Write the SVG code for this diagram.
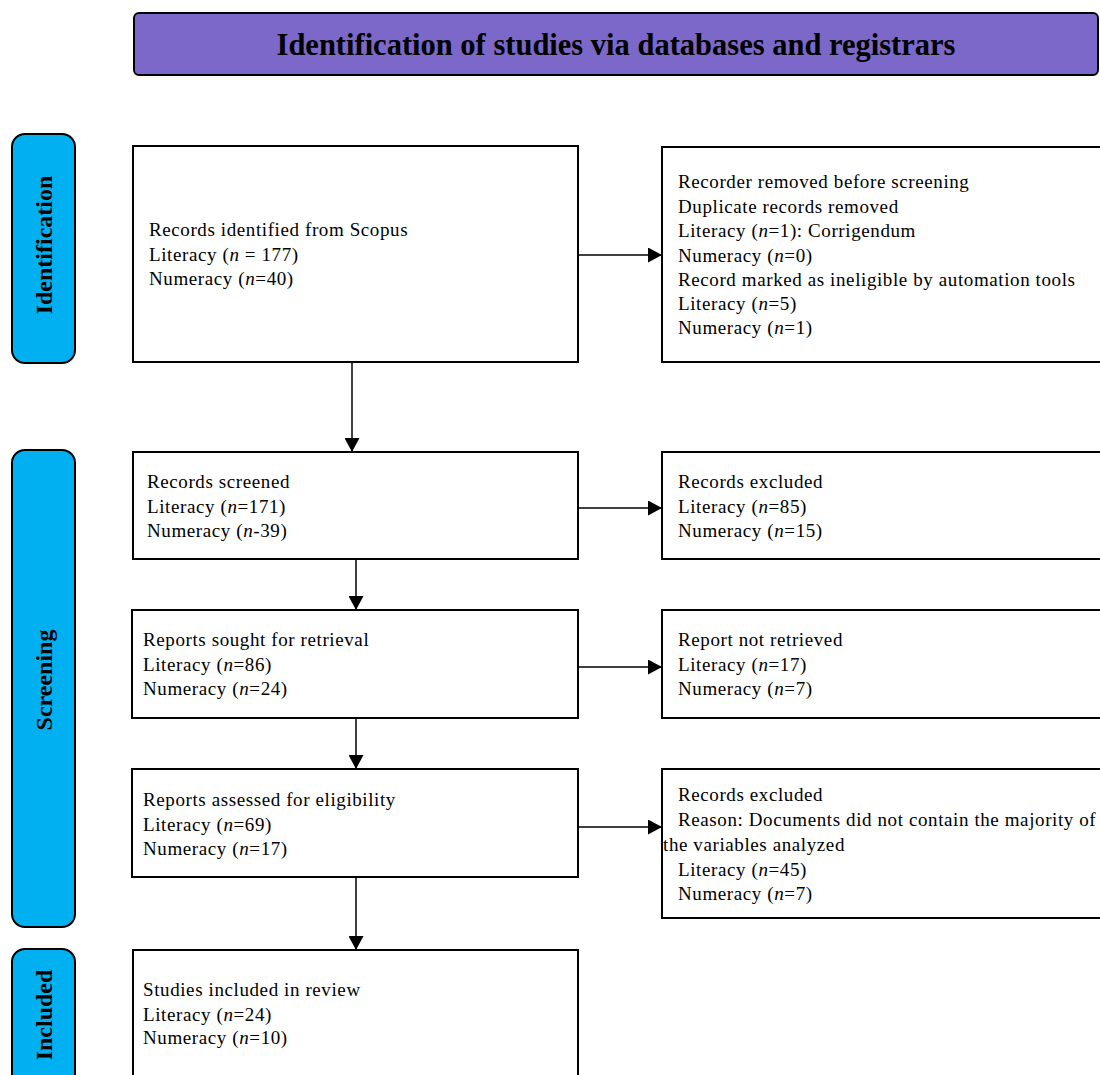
<svg xmlns="http://www.w3.org/2000/svg" width="1100" height="1075" viewBox="0 0 1100 1075">
<defs>
<marker id="ah" markerWidth="14" markerHeight="15" refX="13" refY="7.5" orient="auto" markerUnits="userSpaceOnUse">
<path d="M0,0 L14,7.5 L0,15 Z" fill="#000"/>
</marker>
<style>
.box{fill:#fff;stroke:#000;stroke-width:2}
.side{fill:#00B0F0;stroke:#000;stroke-width:2}
.t{font-family:"Liberation Serif","Times New Roman",serif;font-size:19px;letter-spacing:0.6px;fill:#000}
.lbl{font-family:"Liberation Serif","Times New Roman",serif;font-size:24px;font-weight:bold;fill:#000;text-anchor:middle}
.c{stroke:#000;stroke-width:1.5;fill:none;marker-end:url(#ah)}
</style>
</defs>
<rect width="1100" height="1075" fill="#fff"/>
<g id="title">
<rect x="134" y="13" width="964" height="62" rx="5" fill="#7B68C8" stroke="#000" stroke-width="2"/>
<text x="616" y="55" font-family="'Liberation Serif','Times New Roman',serif" font-size="30.5" font-weight="bold" text-anchor="middle" fill="#000">Identification of studies via databases and registrars</text>
</g>
<g id="phase-identification">
<rect class="side" x="12" y="134" width="63" height="229" rx="13"/>
<text class="lbl" transform="translate(52,245) rotate(-90)">Identification</text>
</g>
<g id="phase-screening">
<rect class="side" x="12" y="450" width="63" height="477" rx="13"/>
<text class="lbl" transform="translate(52,680) rotate(-90)">Screening</text>
</g>
<g id="phase-included">
<rect class="side" x="12" y="949" width="63" height="140" rx="13"/>
<text class="lbl" transform="translate(52,1015) rotate(-90)">Included</text>
</g>
<g id="identified">
<rect class="box" x="133" y="146" width="445" height="216"/>
<text class="t" x="149" y="236">Records identified from Scopus</text>
<text class="t" x="149" y="261">Literacy (<tspan font-style="italic">n</tspan> = 177)</text>
<text class="t" x="149" y="285">Numeracy (<tspan font-style="italic">n</tspan>=40)</text>
</g>
<g id="removed">
<rect class="box" x="662" y="147" width="445" height="215"/>
<text class="t" x="678" y="188">Recorder removed before screening</text>
<text class="t" x="678" y="213">Duplicate records removed</text>
<text class="t" x="678" y="237">Literacy (<tspan font-style="italic">n</tspan>=1): Corrigendum</text>
<text class="t" x="678" y="262">Numeracy (<tspan font-style="italic">n</tspan>=0)</text>
<text class="t" x="678" y="286">Record marked as ineligible by automation tools</text>
<text class="t" x="678" y="310">Literacy (<tspan font-style="italic">n</tspan>=5)</text>
<text class="t" x="678" y="334">Numeracy (<tspan font-style="italic">n</tspan>=1)</text>
</g>
<g id="screened">
<rect class="box" x="133" y="452" width="445" height="107"/>
<text class="t" x="147" y="488">Records screened</text>
<text class="t" x="147" y="513">Literacy (<tspan font-style="italic">n</tspan>=171)</text>
<text class="t" x="147" y="537">Numeracy (<tspan font-style="italic">n</tspan>-39)</text>
</g>
<g id="excluded1">
<rect class="box" x="662" y="452" width="445" height="107"/>
<text class="t" x="678" y="488">Records excluded</text>
<text class="t" x="678" y="513">Literacy (<tspan font-style="italic">n</tspan>=85)</text>
<text class="t" x="678" y="537">Numeracy (<tspan font-style="italic">n</tspan>=15)</text>
</g>
<g id="sought">
<rect class="box" x="132" y="610" width="446" height="108"/>
<text class="t" x="143" y="646">Reports sought for retrieval</text>
<text class="t" x="143" y="671">Literacy (<tspan font-style="italic">n</tspan>=86)</text>
<text class="t" x="143" y="695">Numeracy (<tspan font-style="italic">n</tspan>=24)</text>
</g>
<g id="not-retrieved">
<rect class="box" x="662" y="610" width="445" height="108"/>
<text class="t" x="678" y="646">Report not retrieved</text>
<text class="t" x="678" y="671">Literacy (<tspan font-style="italic">n</tspan>=17)</text>
<text class="t" x="678" y="695">Numeracy (<tspan font-style="italic">n</tspan>=7)</text>
</g>
<g id="assessed">
<rect class="box" x="132" y="769" width="446" height="108"/>
<text class="t" x="143" y="806">Reports assessed for eligibility</text>
<text class="t" x="143" y="831">Literacy (<tspan font-style="italic">n</tspan>=69)</text>
<text class="t" x="143" y="855">Numeracy (<tspan font-style="italic">n</tspan>=17)</text>
</g>
<g id="excluded2">
<rect class="box" x="662" y="769" width="445" height="149"/>
<text class="t" x="678" y="801">Records excluded</text>
<text class="t" x="678" y="826">Reason: Documents did not contain the majority of</text>
<text class="t" x="663" y="851">the variables analyzed</text>
<text class="t" x="678" y="876">Literacy (<tspan font-style="italic">n</tspan>=45)</text>
<text class="t" x="678" y="900">Numeracy (<tspan font-style="italic">n</tspan>=7)</text>
</g>
<g id="included">
<rect class="box" x="133" y="950" width="445" height="140"/>
<text class="t" x="143" y="996">Studies included in review</text>
<text class="t" x="143" y="1021">Literacy (<tspan font-style="italic">n</tspan>=24)</text>
<text class="t" x="143" y="1044">Numeracy (<tspan font-style="italic">n</tspan>=10)</text>
</g>
<g id="connectors">
<line class="c" x1="578" y1="255" x2="661" y2="255"/>
<line class="c" x1="352" y1="362" x2="352" y2="451"/>
<line class="c" x1="578" y1="508" x2="661" y2="508"/>
<line class="c" x1="356" y1="559" x2="356" y2="609"/>
<line class="c" x1="578" y1="667" x2="661" y2="667"/>
<line class="c" x1="356" y1="718" x2="356" y2="768"/>
<line class="c" x1="578" y1="827" x2="661" y2="827"/>
<line class="c" x1="356" y1="877" x2="356" y2="949"/>
</g>
</svg>
